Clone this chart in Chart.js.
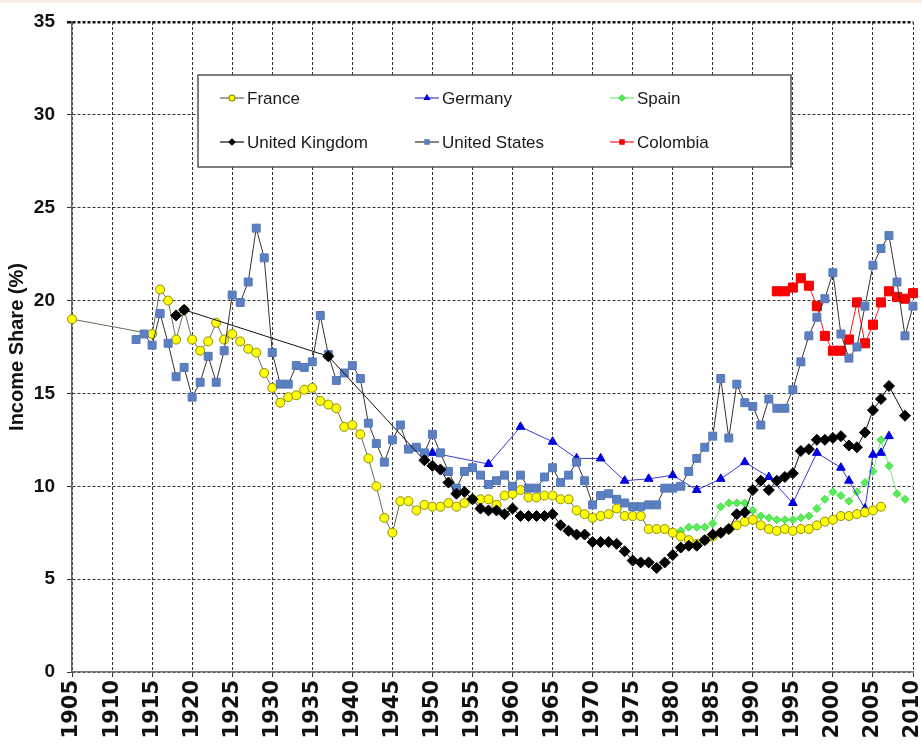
<!DOCTYPE html>
<html>
<head>
<meta charset="utf-8">
<script src="https://cdn.jsdelivr.net/npm/chart.js@4/dist/chart.umd.min.js"></script>
<style>
  html, body { margin: 0; padding: 0; background: #fff; }
  #wrap { position: relative; width: 922px; height: 744px; }
  #band { position: absolute; left: 0; top: 0; width: 922px; height: 3px; background: #f6f0e4; }
</style>
</head>
<body>
<div id="wrap">
  <canvas id="chart" width="922" height="744"></canvas>
  <div id="band"></div>
</div>
<script>
// ---- data (top 1% income share, %) ----
const franceYears = [1905, 1915, 1916, 1917, 1918, 1919, 1920, 1921, 1922, 1923, 1924, 1925, 1926, 1927, 1928, 1929,
  1930, 1931, 1932, 1933, 1934, 1935, 1936, 1937, 1938, 1939, 1940, 1941, 1942, 1943, 1944, 1945, 1946, 1947, 1948, 1949,
  1950, 1951, 1952, 1953, 1954, 1955, 1956, 1957, 1958, 1959, 1960, 1961, 1962, 1963, 1964, 1965, 1966, 1967, 1968, 1969,
  1970, 1971, 1972, 1973, 1974, 1975, 1976, 1977, 1978, 1979, 1980, 1981, 1982, 1983, 1984, 1985, 1986, 1987, 1988, 1989,
  1990, 1991, 1992, 1993, 1994, 1995, 1996, 1997, 1998, 1999, 2000, 2001, 2002, 2003, 2004, 2005, 2006];
const franceValues = [19.0, 18.2, 20.6, 20.0, 17.9, 19.5, 17.9, 17.3, 17.8, 18.8, 17.9, 18.2, 17.8, 17.4, 17.2, 16.1,
  15.3, 14.5, 14.8, 14.9, 15.2, 15.3, 14.6, 14.4, 14.2, 13.2, 13.3, 12.8, 11.5, 10.0, 8.3, 7.5, 9.2, 9.2, 8.7, 9.0,
  8.9, 8.9, 9.1, 8.9, 9.1, 9.3, 9.3, 9.3, 9.0, 9.5, 9.6, 9.8, 9.4, 9.4, 9.5, 9.5, 9.3, 9.3, 8.7, 8.5,
  8.3, 8.4, 8.5, 8.8, 8.4, 8.4, 8.4, 7.7, 7.7, 7.7, 7.5, 7.3, 7.1, 6.9, 7.1, 7.3, 7.5, 7.7, 7.9, 8.1,
  8.2, 7.9, 7.7, 7.6, 7.7, 7.6, 7.7, 7.7, 7.9, 8.1, 8.2, 8.4, 8.4, 8.5, 8.6, 8.7, 8.9];

const germanyYears = [1950, 1957, 1961, 1965, 1968, 1971, 1974, 1977, 1980, 1983, 1986, 1989, 1992, 1995, 1998,
  2001, 2002, 2004, 2005, 2006, 2007];
const germanyValues = [11.8, 11.2, 13.2, 12.4, 11.5, 11.5, 10.3, 10.4, 10.6, 9.8, 10.4, 11.3, 10.5, 9.1, 11.8,
  11.0, 10.3, 8.8, 11.7, 11.8, 12.7];

const spainYears = [1981, 1982, 1983, 1984, 1985, 1986, 1987, 1988, 1989, 1990, 1991, 1992, 1993, 1994, 1995,
  1996, 1997, 1998, 1999, 2000, 2001, 2002, 2003, 2004, 2005, 2006, 2007, 2008, 2009];
const spainValues = [7.6, 7.8, 7.8, 7.8, 8.0, 8.9, 9.1, 9.1, 9.1, 8.7, 8.4, 8.3, 8.2, 8.2, 8.2,
  8.3, 8.4, 8.8, 9.3, 9.7, 9.5, 9.2, 9.7, 10.2, 10.8, 12.5, 11.1, 9.6, 9.3];

const ukYears = [1918, 1919, 1937, 1949, 1950, 1951, 1952, 1953, 1954, 1955, 1956, 1957, 1958, 1959,
  1960, 1961, 1962, 1963, 1964, 1965, 1966, 1967, 1968, 1969, 1970, 1971, 1972, 1973, 1974, 1975, 1976, 1977, 1978, 1979,
  1980, 1981, 1982, 1983, 1984, 1985, 1986, 1987, 1988, 1989, 1990, 1991, 1992, 1993, 1994, 1995, 1996, 1997, 1998, 1999,
  2000, 2001, 2002, 2003, 2004, 2005, 2006, 2007, 2009];
const ukValues = [19.2, 19.5, 17.0, 11.4, 11.1, 10.9, 10.2, 9.6, 9.7, 9.3, 8.8, 8.7, 8.7, 8.5,
  8.8, 8.4, 8.4, 8.4, 8.4, 8.5, 7.9, 7.6, 7.4, 7.4, 7.0, 7.0, 7.0, 6.9, 6.5, 6.0, 5.9, 5.9, 5.6, 5.9,
  6.3, 6.7, 6.8, 6.8, 7.1, 7.4, 7.5, 7.7, 8.5, 8.6, 9.8, 10.3, 9.8, 10.3, 10.5, 10.7, 11.9, 12.0, 12.5, 12.5,
  12.6, 12.7, 12.2, 12.1, 12.9, 14.1, 14.7, 15.4, 13.8];

const usFirstYear = 1913;
const usValues = [17.9, 18.2, 17.6, 19.3, 17.7, 15.9, 16.4,
  14.8, 15.6, 17.0, 15.6, 17.3, 20.3, 19.9, 21.0, 23.9, 22.3,
  17.2, 15.5, 15.5, 16.5, 16.4, 16.7, 19.2, 17.1, 15.7, 16.1,
  16.5, 15.8, 13.4, 12.3, 11.3, 12.5, 13.3, 12.0, 12.1, 11.8,
  12.8, 11.8, 10.8, 9.9, 10.8, 11.0, 10.6, 10.1, 10.3, 10.6,
  10.0, 10.6, 9.9, 9.9, 10.5, 11.0, 10.2, 10.6, 11.3, 10.3,
  9.0, 9.5, 9.6, 9.3, 9.1, 8.9, 8.9, 9.0, 9.0, 9.9,
  9.9, 10.0, 10.8, 11.5, 12.1, 12.7, 15.8, 12.6, 15.5, 14.5,
  14.3, 13.3, 14.7, 14.2, 14.2, 15.2, 16.7, 18.1, 19.1, 20.1,
  21.5, 18.2, 16.9, 17.5, 19.7, 21.9, 22.8, 23.5, 21.0, 18.1,
  19.7];
const usYears = usValues.map((v, i) => usFirstYear + i);

const colombiaYears = [1993, 1994, 1995, 1996, 1997, 1998, 1999, 2000, 2001, 2002, 2003, 2004, 2005, 2006, 2007, 2008, 2009, 2010];
const colombiaValues = [20.5, 20.5, 20.7, 21.2, 20.8, 19.7, 18.1, 17.3, 17.3, 17.9, 19.9, 17.7, 18.7, 19.9, 20.5, 20.2, 20.1, 20.4];

const yTicks = [0, 5, 10, 15, 20, 25, 30, 35];
const xFirst = 1905, xLast = 2010;

const pts = (years, vals) => years.map((y, i) => ({ x: y, y: vals[i] }));

// series look + legend slot [col,row]
const series = [
  { label: 'France', data: pts(franceYears, franceValues), line: '#6b6b5a', fill: '#ffff00', edge: '#8c8c10', style: 'circle', r: 4.5, order: 3, slot: [0, 0] },
  { label: 'Germany', data: pts(germanyYears, germanyValues), line: '#3a3ad0', fill: '#0000ee', edge: '#0000cc', style: 'triangle', r: 5, order: 4, slot: [1, 0] },
  { label: 'Spain', data: pts(spainYears, spainValues), line: '#7be87b', fill: '#55ee55', edge: '#44dd44', style: 'rectRot', r: 4, order: 5, slot: [2, 0] },
  { label: 'United Kingdom', data: pts(ukYears, ukValues), line: '#111', fill: '#000', edge: '#000', style: 'rectRot', r: 5.5, order: 0, slot: [0, 1] },
  { label: 'United States', data: pts(usYears, usValues), line: '#333', fill: '#5b80c2', edge: '#5676b5', style: 'rect', r: 5.6, order: 1, slot: [1, 1] },
  { label: 'Colombia', data: pts(colombiaYears, colombiaValues), line: '#ff1a1a', fill: '#ff0000', edge: '#ee0000', style: 'rect', r: 6.4, order: 2, slot: [2, 1] },
];

// legend box drawn inside the plot, over the grid
const boxLegend = {
  id: 'boxLegend',
  beforeDatasetsDraw(chart) {
    const ctx = chart.ctx;
    const bx = 198, by = 75, bw = 593, bh = 92;
    ctx.save();
    ctx.fillStyle = '#fff';
    ctx.fillRect(bx, by, bw, bh);
    ctx.strokeStyle = '#555';
    ctx.lineWidth = 1.5;
    ctx.strokeRect(bx, by, bw, bh);
    ctx.font = '17px "Liberation Sans", Arial, sans-serif';
    ctx.textBaseline = 'middle';
    series.forEach(s => {
      const mx = 232 + s.slot[0] * 195;
      const my = 98 + s.slot[1] * 44;
      ctx.strokeStyle = s.line;
      ctx.lineWidth = 1.2;
      ctx.beginPath();
      ctx.moveTo(mx - 12, my);
      ctx.lineTo(mx + 12, my);
      ctx.stroke();
      ctx.fillStyle = s.fill;
      ctx.strokeStyle = s.edge;
      Chart.helpers.drawPoint(ctx, { pointStyle: s.style, radius: 3, rotation: 0, borderWidth: 1 }, mx, my);
      ctx.fillStyle = '#1a1a1a';
      ctx.fillText(s.label, mx + 15, my + 1);
    });
    ctx.restore();
  }
};

const gridDash = [3, 2];

new Chart(document.getElementById('chart'), {
  type: 'line',
  data: {
    datasets: series.map(s => ({
      label: s.label,
      data: s.data,
      order: s.order,
      borderColor: s.line,
      borderWidth: 1,
      backgroundColor: s.fill,
      pointStyle: s.style,
      pointRadius: s.r,
      pointBackgroundColor: s.fill,
      pointBorderColor: s.edge,
      pointBorderWidth: 1,
      tension: 0,
      fill: false,
      clip: false
    }))
  },
  options: {
    responsive: false,
    devicePixelRatio: 1,
    animation: false,
    events: [],
    layout: { padding: { top: 22, right: 9, left: 0, bottom: 0 } },
    plugins: { legend: { display: false }, tooltip: { enabled: false } },
    scales: {
      x: {
        type: 'linear',
        min: xFirst,
        max: xLast,
        afterFit: s => { s.height = 72; s.paddingLeft = 0; s.paddingRight = 0; },
        ticks: {
          stepSize: 5,
          autoSkip: false,
          minRotation: 90,
          maxRotation: 90,
          padding: 3,
          color: '#111',
          font: { family: '"DejaVu Sans", sans-serif', size: 21, weight: 'bold' },
          callback: v => String(v)
        },
        grid: { color: '#333', lineWidth: 1, tickLength: 5, drawTicks: true },
        border: { display: true, color: '#777', width: 1.5, dash: gridDash }
      },
      y: {
        min: 0,
        max: 35,
        afterFit: s => { s.width = 72; s.paddingTop = 0; s.paddingBottom = 0; },
        afterBuildTicks: s => { s.ticks = yTicks.map(v => ({ value: v })); },
        title: {
          display: true,
          text: 'Income Share (%)',
          color: '#111',
          padding: { top: 5, bottom: 0 },
          font: { family: '"Liberation Sans", Arial, sans-serif', size: 20, weight: 'bold' }
        },
        ticks: {
          padding: 12,
          color: '#111',
          font: { family: '"Liberation Sans", Arial, sans-serif', size: 19, weight: 'bold' }
        },
        grid: {
          color: ctx => ctx.tick && ctx.tick.value === 35 ? '#111' : '#333',
          lineWidth: ctx => ctx.tick && ctx.tick.value === 35 ? 2.5 : 1,
          tickLength: 5
        },
        border: { display: true, color: '#666', width: 1.5, dash: gridDash }
      }
    }
  },
  plugins: [boxLegend]
});
</script>
</body>
</html>
